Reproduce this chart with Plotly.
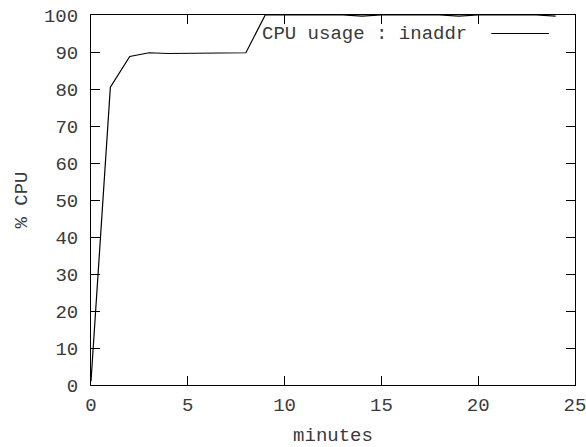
import plotly.graph_objects as go

# Data
minutes = list(range(0, 25))
cpu_usage = [1, 80.5, 88.8, 89.8, 89.6, 89.7, 89.7, 89.7, 89.8, 100,
             100, 100, 100, 100, 99.7, 100, 100, 100, 100, 99.7,
             100, 100, 100, 100, 99.7]
series_name = "CPU usage : inaddr"
x_ticks = [0, 5, 10, 15, 20, 25]
y_ticks = [0, 10, 20, 30, 40, 50, 60, 70, 80, 90, 100]
x_title = "minutes"
y_title = "% CPU"

FONT = dict(family="Liberation Mono, DejaVu Sans Mono, monospace", size=19, color="#3a3a3a")

fig = go.Figure()
fig.add_trace(go.Scatter(x=minutes, y=cpu_usage, mode="lines", name=series_name,
                         line=dict(color="black", width=1.2), showlegend=False))

axis_common = dict(showgrid=False, zeroline=False, showline=True, linecolor="black",
                   linewidth=1, mirror="allticks", ticks="inside", ticklen=9,
                   tickcolor="black", tickwidth=1, tickfont=FONT, automargin=False,
                   ticklabeloverflow="allow")

fig.update_xaxes(range=[0, 25], tickmode="array", tickvals=x_ticks, ticklabelstandoff=2,
                 title=dict(text=x_title, font=FONT, standoff=14), **axis_common)
fig.update_yaxes(range=[0, 100], tickmode="array", tickvals=y_ticks, ticklabelstandoff=8,
                 title=dict(text=y_title, font=FONT, standoff=11), **axis_common)

# gnuplot-style key: text followed by a line sample, top right inside the plot
fig.add_annotation(text=series_name, xref="paper", yref="paper", x=0.781, y=0.95,
                   xanchor="right", yanchor="middle", showarrow=False, font=FONT)
fig.add_shape(type="line", xref="paper", yref="paper", x0=0.827, x1=0.946,
              y0=0.95, y1=0.95, line=dict(color="black", width=1.2))

fig.update_layout(width=586, height=447, margin=dict(l=91, r=11, t=15, b=62),
                  plot_bgcolor="white", paper_bgcolor="white", font=FONT)

# remove the default page margin so the figure fills the 586x447 window exactly
fig.write_html("out.html", config={"displayModeBar": False},
               post_script="document.body.style.margin='0';"
               "document.body.style.overflow='hidden';")
